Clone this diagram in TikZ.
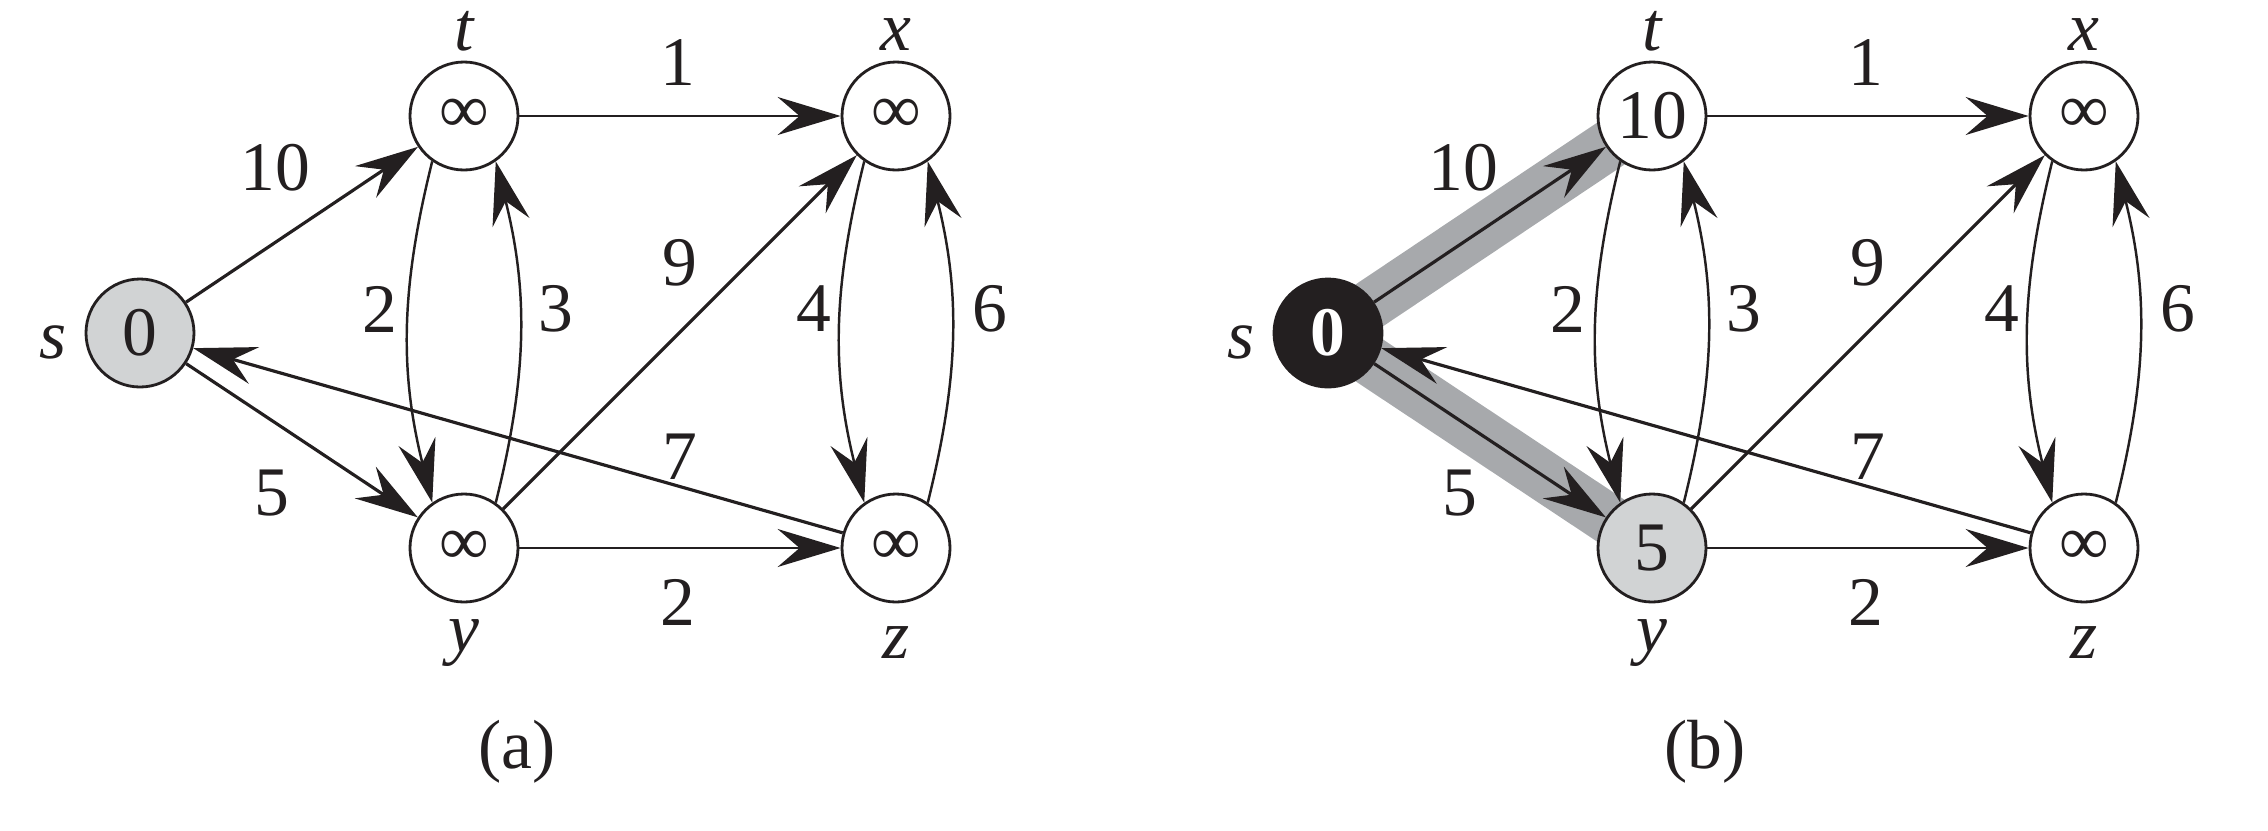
\documentclass[tikz,border=0pt]{standalone}
\usepackage{fontspec}
\setmainfont{Liberation Serif}
\usetikzlibrary{arrows.meta}
\usetikzlibrary{backgrounds}
\definecolor{ink}{HTML}{231F20}
\definecolor{fillgray}{HTML}{D1D3D4}
\definecolor{bandgray}{HTML}{A7A9AC}
\newcommand{\bigtext}{\fontsize{19.8}{24}\selectfont}

\tikzset{
  vtx/.style={circle, draw=ink, line width=0.8pt, fill=white, minimum size=1.08cm,
    inner sep=0pt, font=\bigtext, text=ink},
  vgray/.style={vtx, fill=fillgray},
  vblack/.style={vtx, fill=ink, text=white, font=\bigtext\bfseries},
  edge/.style={draw=ink, line width=0.9pt, -{Stealth[length=6.3mm,width=3.8mm,inset=2.2mm]}},
  thinedge/.style={edge, line width=0.7pt},
  wt/.style={font=\bigtext, text=ink, inner sep=0pt},
  nm/.style={wt, font=\bigtext\itshape},
  band/.style={draw=bandgray, line width=0.5cm}
}

\begin{document}
\begin{tikzpicture}
  \useasboundingbox (0,0) rectangle (22.68,8.30);

  \foreach \p/\dx/\sst/\yst/\tv/\yv in {a/0/vgray/vtx/∞/∞, b/11.88/vblack/vgray/10/5}{
    \begin{scope}[xshift=\dx cm]
      \node[\sst] (s\p) at (1.40,4.97) {0};
      \node[vtx] (t\p) at (4.64,7.14) {\tv};
      \node[vtx] (x\p) at (8.96,7.14) {∞};
      \node[\yst] (y\p) at (4.64,2.82) {\yv};
      \node[vtx] (z\p) at (8.96,2.82) {∞};

      \node[nm] (sl\p) at (0.53,4.88) {s};
      \node[nm] (tl\p) at (4.64,7.99) {t};
      \node[nm] (xl\p) at (8.96,7.95) {x};
      \node[nm] (yl\p) at (4.64,1.87) {y};
      \node[nm] (zl\p) at (8.96,1.87) {z};

      \draw[edge] (s\p) -- (t\p);
      \draw[edge] (s\p) -- (y\p);
      \draw[thinedge] (t\p) -- (x\p);
      \draw[thinedge] (y\p) -- (z\p);
      \draw[edge] (y\p) -- (x\p);
      \draw[edge] (z\p) -- (s\p);
      \draw[thinedge] (t\p.235) to[bend right=14] (y\p.125);
      \draw[thinedge] (y\p.55) to[bend right=14] (t\p.305);
      \draw[thinedge] (x\p.235) to[bend right=14] (z\p.125);
      \draw[thinedge] (z\p.55) to[bend right=14] (x\p.305);

      \node[wt] (wst\p) at (2.75,6.62) {10};
      \node[wt] (wsy\p) at (2.72,3.37) {5};
      \node[wt] (wtx\p) at (6.78,7.67) {1};
      \node[wt] (wty\p) at (3.80,5.21) {2};
      \node[wt] (wyt\p) at (5.56,5.21) {3};
      \node[wt] (wyx\p) at (6.80,5.67) {9};
      \node[wt] (wzs\p) at (6.80,3.73) {7};
      \node[wt] (wyz\p) at (6.78,2.28) {2};
      \node[wt] (wxz\p) at (8.14,5.21) {4};
      \node[wt] (wzx\p) at (9.90,5.21) {6};

      \node[wt] (cap\p) at (5.17,0.78) {(\p)};
    \end{scope}
  }

  \begin{scope}[on background layer]
    \draw[band] (sb.center) -- (tb.center);
    \draw[band, shift={(-0.03,-0.04)}] (sb.center) -- (yb.center);
  \end{scope}
\end{tikzpicture}
\end{document}
